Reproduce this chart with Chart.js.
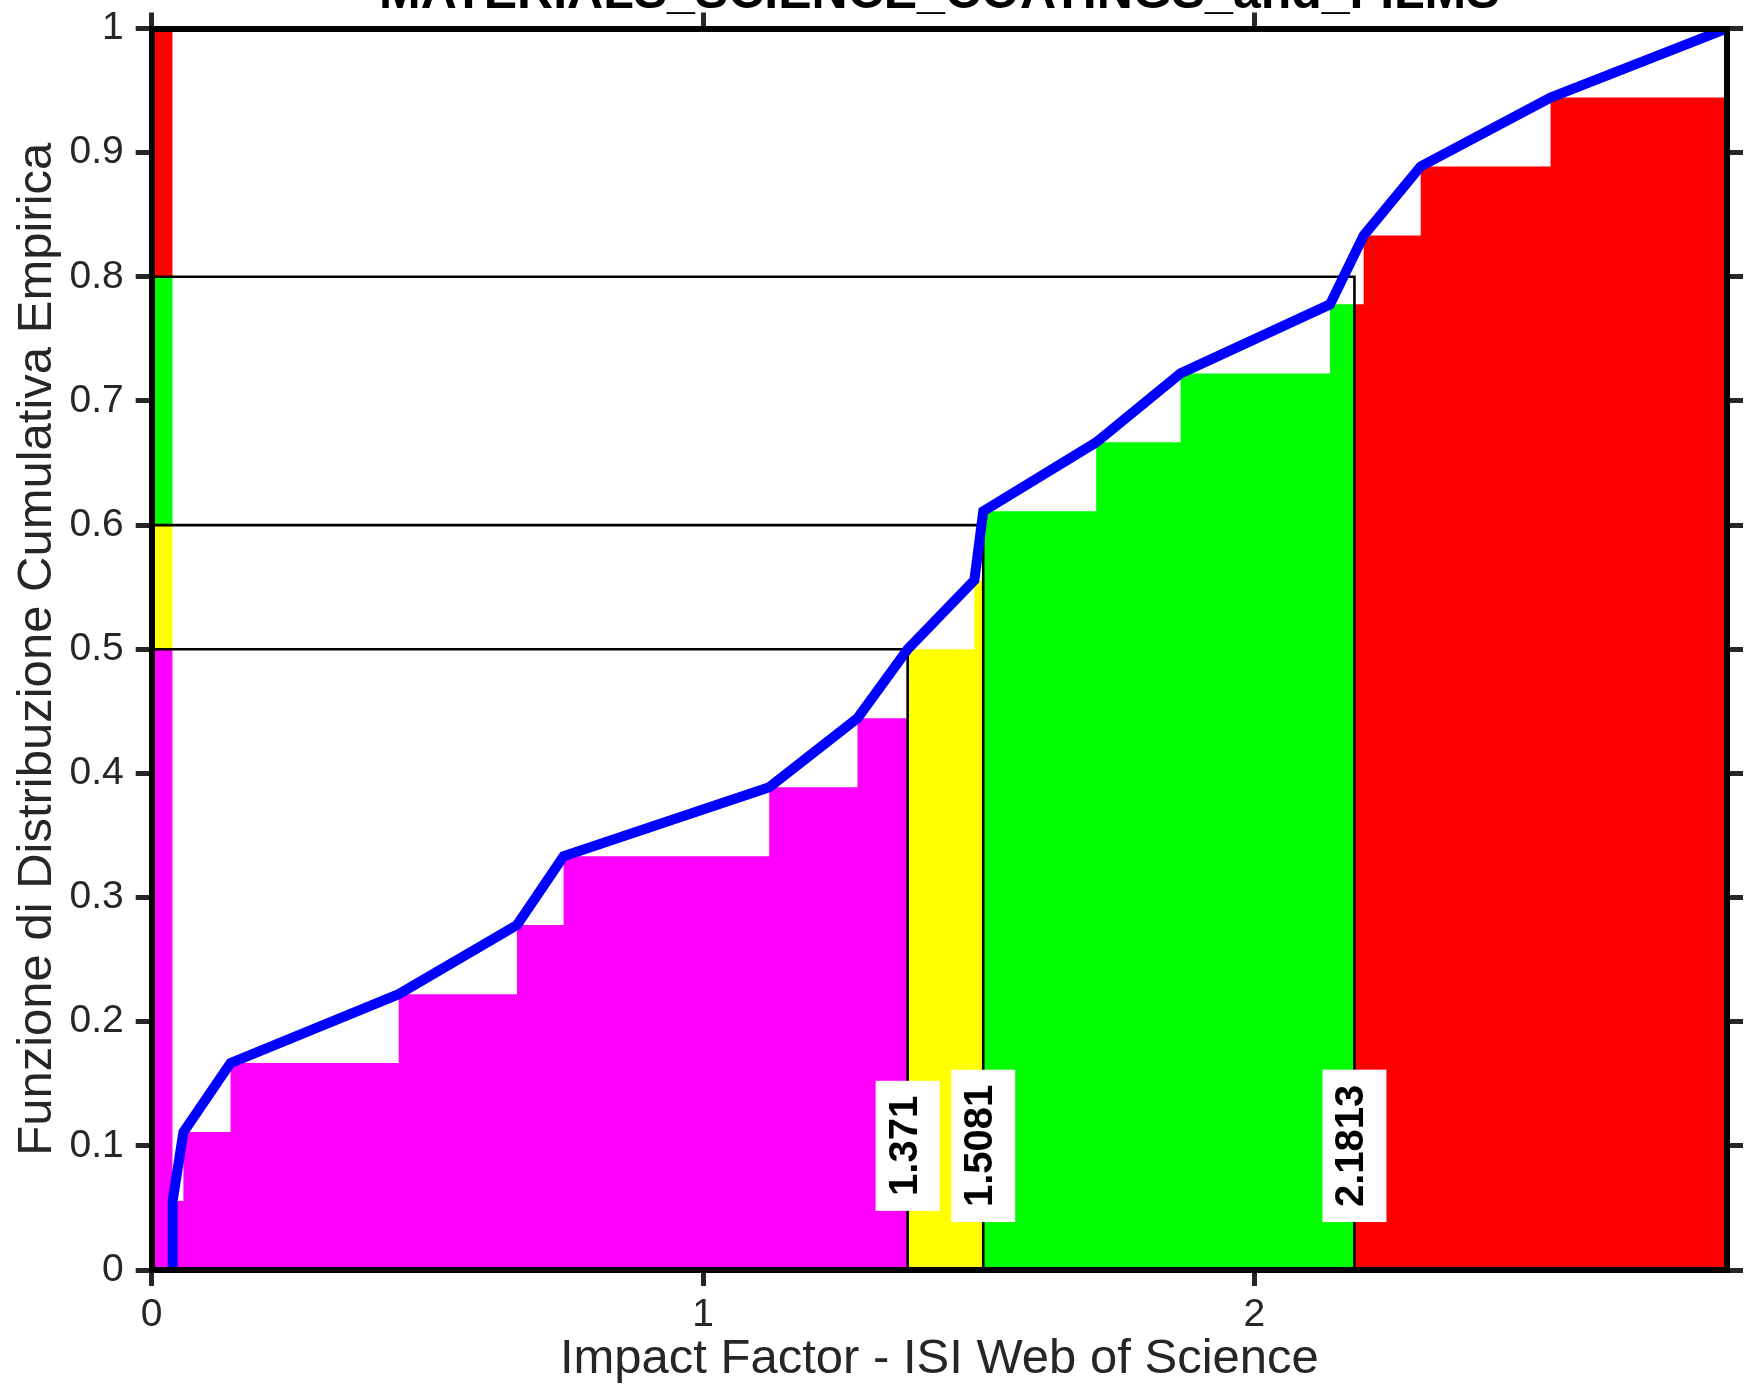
<!DOCTYPE html>
<html>
<head>
<meta charset="utf-8">
<script src="https://cdn.jsdelivr.net/npm/chart.js@4.4.1/dist/chart.umd.min.js"></script>
<style>
  html, body { margin: 0; padding: 0; background: #fff; }
  #wrap { width: 1747px; height: 1388px; position: relative; }
</style>
</head>
<body>
<div id="wrap"><canvas id="ecdf"></canvas></div>
<script>
// sorted impact factors (x of every step corner of the ECDF)
const impactFactors = [0.038, 0.0575, 0.143, 0.448, 0.6625, 0.747, 1.120, 1.280, 1.371,
    1.492, 1.5081, 1.713, 1.866, 2.137, 2.198, 2.3015, 2.537, 2.857];
// ECDF value reached at each of them (18 journals -> steps of 1/18)
const cdfValues = [0.0556, 0.1111, 0.1667, 0.2222, 0.2778, 0.3333, 0.3889, 0.4444, 0.5,
    0.5556, 0.6111, 0.6667, 0.7222, 0.7778, 0.8333, 0.8889, 0.9444, 1];

// cut levels on the cdf and the impact factor where they fall
const probLevels = [0.5, 0.6, 0.8];
const cutValues = [1.371, 1.5081, 2.1813];
const cutLabels = ['1.371', '1.5081', '2.1813'];
// magenta / yellow / green / red bands
const bandColors = ['#ff00ff', '#ffff00', '#00ff00', '#ff0000'];

const xTickValues = [0, 1, 2];
const xTickLabels = ['0', '1', '2'];
const yTickValues = [0, 0.1, 0.2, 0.3, 0.4, 0.5, 0.6, 0.7, 0.8, 0.9, 1];
const yTickLabels = ['0', '0.1', '0.2', '0.3', '0.4', '0.5', '0.6', '0.7', '0.8', '0.9', '1'];
const xMax = 2.857;

const chartTitle = 'MATERIALS_SCIENCE_COATINGS_and_FILMS';
const xTitle = 'Impact Factor - ISI Web of Science';
const yTitle = 'Funzione di Distribuzione Cumulativa Empirica';

const FONT = '"Liberation Sans", Arial, Helvetica, sans-serif';
const INK = '#262626';

// step area of the ecdf between two x limits (value i holds from x_i to x_i+1)
const stepArea = (from, to) => {
    let last = 0;
    for (let i = 0; i < impactFactors.length; i++) {
        if (impactFactors[i] <= from) last = cdfValues[i];
    }
    const pts = [{ x: from, y: last }];
    for (let i = 0; i < impactFactors.length; i++) {
        if (impactFactors[i] > from && impactFactors[i] < to) {
            pts.push({ x: impactFactors[i], y: cdfValues[i] });
            last = cdfValues[i];
        }
    }
    pts.push({ x: to, y: last });
    return pts;
};

const datasets = [];

// blue ecdf line - first so it sits on top
const bluePts = [{ x: impactFactors[0], y: 0 }];
impactFactors.forEach((v, i) => bluePts.push({ x: v, y: cdfValues[i] }));
datasets.push({
    data: bluePts,
    borderColor: '#0000ff',
    borderWidth: 10,
    pointRadius: 0,
    fill: false
});

// black guide lines: horizontal from the axis, then down to zero
probLevels.forEach((p, i) => {
    datasets.push({
        data: [{ x: 0, y: p }, { x: cutValues[i], y: p }, { x: cutValues[i], y: 0 }],
        borderColor: '#000',
        borderWidth: 2.6,
        pointRadius: 0,
        fill: false
    });
});

// coloured areas under the steps
const xEdges = [impactFactors[0], ...cutValues, xMax];
for (let k = 0; k < 4; k++) {
    datasets.push({
        data: stepArea(xEdges[k], xEdges[k + 1]),
        stepped: true,
        borderWidth: 0,
        borderColor: 'rgba(0,0,0,0)',
        backgroundColor: bandColors[k],
        pointRadius: 0,
        fill: 'origin'
    });
}

// thin colour strip along the y axis
const yEdges = [0, ...probLevels, 1];
for (let k = 0; k < 4; k++) {
    datasets.push({
        data: [{ x: 0, y: yEdges[k + 1] }, { x: impactFactors[0], y: yEdges[k + 1] }],
        borderWidth: 0,
        borderColor: 'rgba(0,0,0,0)',
        backgroundColor: bandColors[k],
        pointRadius: 0,
        fill: { value: yEdges[k] }
    });
}

// white boxes with the cut values, rotated
const cutLabelPlugin = {
    id: 'cutLabels',
    afterDatasetsDraw(chart) {
        const { ctx, scales: { x, y } } = chart;
        ctx.font = 'bold 40px ' + FONT;
        cutValues.forEach((q, i) => {
            const px = x.getPixelForValue(q);
            const py = y.getPixelForValue(0.1);
            const w = ctx.measureText(cutLabels[i]).width;
            ctx.save();
            ctx.fillStyle = '#fff';
            ctx.fillRect(px - 32, py - w / 2 - 15, 64, w + 30);
            ctx.translate(px - 2, py);
            ctx.rotate(-Math.PI / 2);
            ctx.fillStyle = '#000';
            ctx.textAlign = 'center';
            ctx.textBaseline = 'middle';
            ctx.fillText(cutLabels[i], 0, 0);
            ctx.restore();
        });
    }
};

// title gets cut by the top of the page like in the original
const topTitlePlugin = {
    id: 'topTitle',
    afterDraw(chart) {
        const { ctx, chartArea } = chart;
        ctx.save();
        ctx.font = 'bold 50px ' + FONT;
        ctx.fillStyle = '#000';
        ctx.textAlign = 'center';
        ctx.textBaseline = 'alphabetic';
        ctx.fillText(chartTitle, (chartArea.left + chartArea.right) / 2, 8);
        ctx.restore();
    }
};

// fixed box sizes, and no extra room asked for the end labels
const fixSize = (w, h) => (s) => {
    if (w !== null) s.width = w;
    if (h !== null) s.height = h;
    s.paddingTop = 0;
    s.paddingBottom = 0;
    s.paddingLeft = 0;
    s.paddingRight = 0;
};

const tickFont = { family: FONT, size: 39 };
const gridOpts = {
    drawOnChartArea: false,
    drawTicks: true,
    tickLength: 16,
    tickWidth: 5,
    lineWidth: 5,
    tickColor: INK,
    color: INK
};
const borderOpts = { display: true, width: 6, color: '#000', z: 1 };

new Chart(document.getElementById('ecdf'), {
    type: 'line',
    data: { datasets: datasets },
    plugins: [cutLabelPlugin, topTitlePlugin],
    options: {
        responsive: true,
        maintainAspectRatio: false,
        animation: false,
        layout: { padding: 0 },
        plugins: {
            legend: { display: false },
            tooltip: { enabled: false }
        },
        elements: { line: { tension: 0 } },
        scales: {
            x: {
                type: 'linear',
                position: 'bottom',
                min: 0,
                max: xMax,
                afterBuildTicks: (s) => { s.ticks = xTickValues.map(v => ({ value: v })); },
                afterFit: fixSize(null, 118),
                ticks: {
                    font: tickFont,
                    color: INK,
                    padding: 6,
                    maxRotation: 0,
                    callback: (v, i) => xTickLabels[i]
                },
                grid: gridOpts,
                border: borderOpts,
                title: {
                    display: true,
                    text: xTitle,
                    color: INK,
                    font: { family: FONT, size: 49, lineHeight: 1 },
                    padding: { top: 0, bottom: 4.5 }
                }
            },
            x2: {
                type: 'linear',
                axis: 'x',
                position: 'top',
                min: 0,
                max: xMax,
                afterBuildTicks: (s) => { s.ticks = xTickValues.map(v => ({ value: v })); },
                afterFit: fixSize(null, 28.5),
                ticks: { display: false },
                grid: gridOpts,
                border: borderOpts
            },
            y: {
                type: 'linear',
                position: 'left',
                min: 0,
                max: 1,
                afterBuildTicks: (s) => { s.ticks = yTickValues.map(v => ({ value: v })); },
                afterFit: fixSize(151.7, null),
                ticks: {
                    font: tickFont,
                    color: INK,
                    padding: 12,
                    callback: (v, i) => yTickLabels[i]
                },
                grid: gridOpts,
                border: borderOpts,
                title: {
                    display: true,
                    text: yTitle,
                    color: INK,
                    font: { family: FONT, size: 49, lineHeight: 1 },
                    padding: { top: 13, bottom: 0 }
                }
            },
            y2: {
                type: 'linear',
                axis: 'y',
                position: 'right',
                min: 0,
                max: 1,
                afterBuildTicks: (s) => { s.ticks = yTickValues.map(v => ({ value: v })); },
                afterFit: fixSize(20, null),
                ticks: { display: false },
                grid: gridOpts,
                border: borderOpts
            }
        }
    }
});
</script>
</body>
</html>
